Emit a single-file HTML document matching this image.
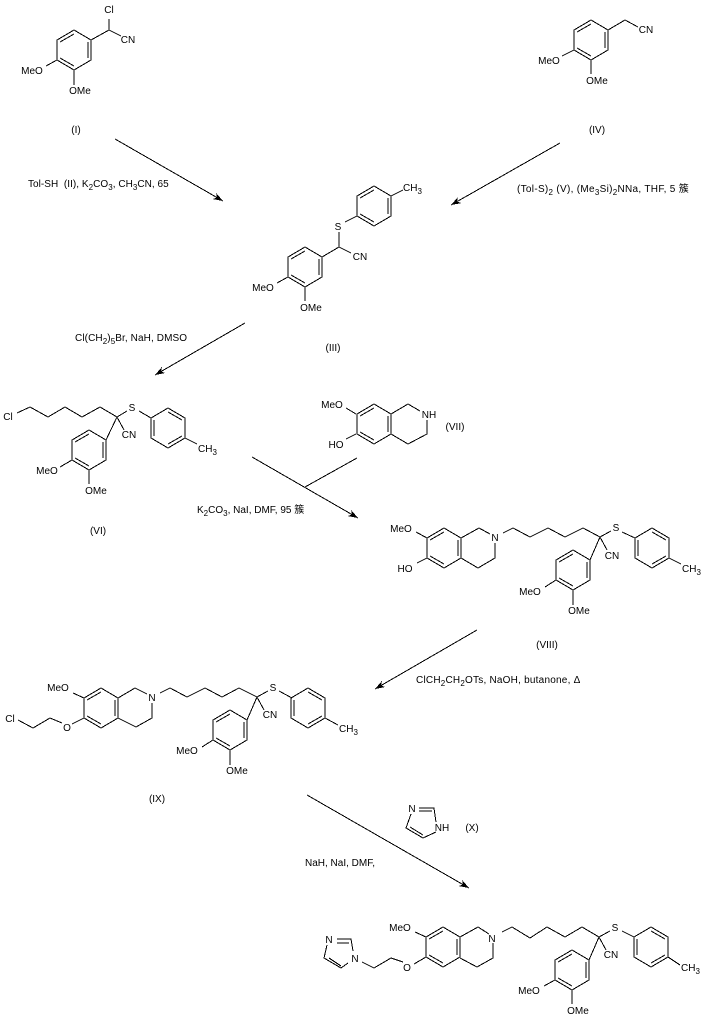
<!DOCTYPE html>
<html><head><meta charset="utf-8"><style>
html,body{margin:0;padding:0;background:#fff}
svg{display:block}
text{font:10px "Liberation Sans","Noto Sans CJK SC",sans-serif;fill:#000;text-anchor:middle}
text.s{text-anchor:start}
tspan.b{font-size:8px}
path,use{shape-rendering:crispEdges}
.l{fill:none;stroke:#000;stroke-width:1}
</style></head><body>
<svg xmlns="http://www.w3.org/2000/svg" width="705" height="1022" viewBox="0 0 705 1022">
<defs>
<marker id="h" markerUnits="userSpaceOnUse" markerWidth="12" markerHeight="8" refX="10" refY="4" orient="auto"><path d="M0 .5L10 4L0 7.5L3 4z" fill="#000"/></marker>
<g id="a" class="l"><path d="M0-20L17-10V10L0 20L-17 10V-10Z M-14-8L0-16 M14-8V8 M-14 8L0 16"/></g>
<g id="c" class="l"><path d="M0-20L17-10V10L0 20L-17 10V-10Z M0-16L14-8 M-14-8V8 M0 16L14 8"/></g>
</defs>

<!-- I -->
<use href="#a" x="74" y="50"/>
<path class="l" d="M91 40L109 30V19 M109 30L121 36 M57 60L46 66 M74 70V85"/>
<text x="109" y="13">Cl</text><text x="128" y="43">CN</text><text x="32" y="74">MeO</text><text x="80" y="94">OMe</text><text x="76" y="133">(I)</text>
<path class="l" d="M115 139L223 201" marker-end="url(#h)"/>
<text class="s" x="28" y="187" style="letter-spacing:.04px">Tol-SH&#160;&#160;(II), K<tspan class="b" dy="3">2</tspan><tspan dy="-3">CO</tspan><tspan class="b" dy="3">3</tspan><tspan dy="-3">, CH</tspan><tspan class="b" dy="3">3</tspan><tspan dy="-3">CN, 65</tspan></text>

<!-- IV -->
<use href="#a" x="591" y="40"/>
<path class="l" d="M608 30L625 20L638 27 M574 50L562 56 M591 60V74"/>
<text x="646" y="33">CN</text><text x="549" y="64">MeO</text><text x="597" y="84">OMe</text><text x="597" y="133">(IV)</text>
<path class="l" d="M560 143L451 205" marker-end="url(#h)"/>
<text class="s" x="517" y="192" style="letter-spacing:.3px">(Tol-S)<tspan class="b" dy="3">2</tspan><tspan dy="-3"> (V), (Me</tspan><tspan class="b" dy="3">3</tspan><tspan dy="-3">Si)</tspan><tspan class="b" dy="3">2</tspan><tspan dy="-3">NNa, THF, 5 簇</tspan></text>

<!-- III -->
<use href="#a" x="374" y="206"/><use href="#a" x="305" y="267"/>
<path class="l" d="M391 196L403 190 M357 216L345 222 M339 232V247L351 253 M339 247L322 257 M288 277L277 283 M305 287V301"/>
<text class="s" x="403" y="191">CH<tspan class="b" dy="3">3</tspan></text>
<text x="338" y="230">S</text><text x="360" y="260">CN</text><text x="263" y="291">MeO</text><text x="311" y="311">OMe</text><text x="333" y="351">(III)</text>
<path class="l" d="M245 323L155 375" marker-end="url(#h)"/>
<text class="s" x="75" y="341" style="letter-spacing:.1px">Cl(CH<tspan class="b" dy="3">2</tspan><tspan dy="-3">)</tspan><tspan class="b" dy="3">5</tspan><tspan dy="-3">Br, NaH, DMSO</tspan></text>

<!-- VI -->
<use href="#c" x="168" y="428"/><use href="#a" x="89" y="450"/>
<path class="l" d="M17 413L30 407L48 417L65 407L82 417L100 407L117 417L127 411 M139 411L151 418 M185 438L197 444 M117 417L124 430 M117 417L106 440 M72 460L60 467 M89 470V484"/>
<text x="8" y="420">Cl</text><text x="132" y="411">S</text><text x="129" y="438">CN</text><text class="s" x="198" y="452">CH<tspan class="b" dy="3">3</tspan></text><text x="47" y="474">MeO</text><text x="96" y="494">OMe</text><text x="98" y="534">(VI)</text>

<!-- VII -->
<use href="#a" x="374" y="424"/>
<path class="l" d="M391 414L408 404L420 411 M427 420V434L408 444L391 434 M356 414L346 408 M356 434L346 439"/>
<text x="429" y="418">NH</text><text x="332" y="408">MeO</text><text x="336" y="448">HO</text><text x="455" y="430">(VII)</text>
<path class="l" d="M357 458L305 487 M252 457L358 518" marker-end="url(#h)"/>
<text class="s" x="197" y="513">K<tspan class="b" dy="3">2</tspan><tspan dy="-3">CO</tspan><tspan class="b" dy="3">3</tspan><tspan dy="-3">, NaI, DMF, 95 簇</tspan></text>

<!-- VIII -->
<use href="#a" x="444" y="548"/><use href="#c" x="652" y="548"/><use href="#a" x="573" y="570"/>
<path class="l" d="M461 538L479 528L490 534 M495 543V558L478 568L461 558 M503 533L513 528L530 537L548 528L565 537L583 528L600 537L611 531 M622 532L635 538 M669 558L681 564 M600 537L607 550 M600 537L590 560 M556 580L545 587 M573 590V605 M427 538L416 532 M427 558L417 563"/>
<text x="495" y="541">N</text><text x="616" y="531">S</text><text x="612" y="559">CN</text><text class="s" x="682" y="572">CH<tspan class="b" dy="3">3</tspan></text><text x="530" y="595">MeO</text><text x="579" y="614">OMe</text><text x="401" y="532">MeO</text><text x="405" y="572">HO</text><text x="547" y="648">(VIII)</text>
<path class="l" d="M477 630L375 689" marker-end="url(#h)"/>
<text class="s" x="416" y="683" style="letter-spacing:.22px">ClCH<tspan class="b" dy="3">2</tspan><tspan dy="-3">CH</tspan><tspan class="b" dy="3">2</tspan><tspan dy="-3">OTs, NaOH, butanone, Δ</tspan></text>

<!-- IX -->
<use href="#a" x="101" y="708"/><use href="#c" x="308" y="708"/><use href="#a" x="230" y="730"/>
<path class="l" d="M73 693L84 698 M118 698L135 688L147 694 M152 703V718L136 727L118 718 M160 693L170 688L187 697L205 688L222 697L239 688L257 697L268 691 M279 691L292 698 M325 718L338 725 M257 697L264 710 M257 697L247 720 M213 740L202 747 M230 750V765 M84 718L72 724 M62 723L50 718L33 728L18 720"/>
<text x="58" y="691">MeO</text><text x="152" y="701">N</text><text x="273" y="691">S</text><text x="270" y="718">CN</text><text class="s" x="339" y="732">CH<tspan class="b" dy="3">3</tspan></text><text x="187" y="754">MeO</text><text x="237" y="774">OMe</text><text x="67" y="731">O</text><text x="10" y="722">Cl</text><text x="157" y="802">(IX)</text>

<!-- X -->
<path class="l" d="M307 795L469 888" marker-end="url(#h)"/>
<text class="s" x="305" y="866">NaH, NaI, DMF,</text>
<path class="l" d="M419 808H434L436 822 M419 811H432 M436 832L423 838L406 828L411 814 M410 827L423 835"/>
<text x="412" y="812">N</text><text x="442" y="831">NH</text><text x="472" y="831">(X)</text>

<!-- Final -->
<use href="#a" x="443" y="947"/><use href="#c" x="651" y="947"/><use href="#a" x="572" y="970"/>
<path class="l" d="M415 932L426 937 M460 937L478 927L489 934 M493 943V958L477 967L460 958 M502 932L512 927L530 938L547 927L565 937L582 927L599 937L610 931 M622 931L634 937 M668 957L680 965 M599 937L606 950 M599 937L589 960 M555 980L544 986 M572 990V1004 M426 957L414 964 M403 962L391 958L374 968L362 962 M353 951L351 939H337 M349 943H337 M327 945L324 958L341 968L348 963 M329 958L341 966"/>
<text x="400" y="931">MeO</text><text x="492" y="942">N</text><text x="615" y="931">S</text><text x="611" y="958">CN</text><text class="s" x="681" y="971">CH<tspan class="b" dy="3">3</tspan></text><text x="529" y="994">MeO</text><text x="578" y="1014">OMe</text><text x="407" y="971">O</text><text x="355" y="962">N</text><text x="329" y="943">N</text>
</svg>
</body></html>
